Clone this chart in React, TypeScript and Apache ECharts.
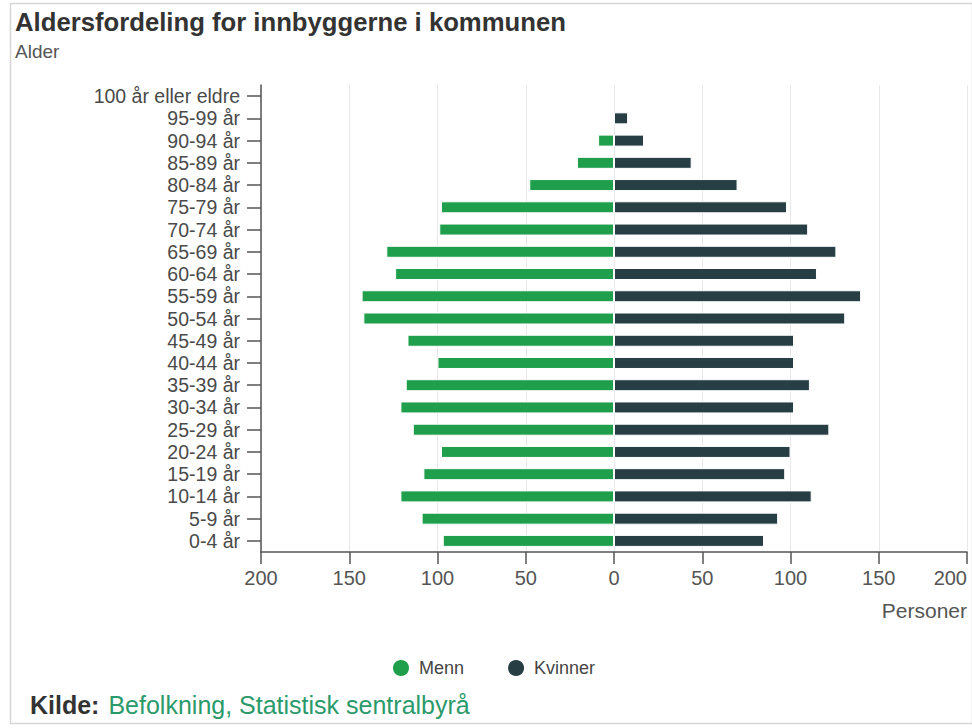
import React, { useEffect, useRef } from "react";
import * as echarts from "echarts";

const categories = [
  "0-4 år", "5-9 år", "10-14 år", "15-19 år", "20-24 år", "25-29 år", "30-34 år",
  "35-39 år", "40-44 år", "45-49 år", "50-54 år", "55-59 år", "60-64 år", "65-69 år",
  "70-74 år", "75-79 år", "80-84 år", "85-89 år", "90-94 år", "95-99 år", "100 år eller eldre",
];
const menn = [97, 109, 121, 108, 98, 114, 121, 118, 100, 117, 142, 143, 124, 129, 99, 98, 48, 21, 9, 0, 0];
const kvinner = [85, 93, 112, 97, 100, 122, 102, 111, 102, 102, 131, 140, 115, 126, 110, 98, 70, 44, 17, 8, 0];
const xTicks = { min: -200, max: 200, interval: 50 };

const FONT = "'Liberation Sans', Arial, Helvetica, sans-serif";
const GREEN = "#1f9e4c";
const DARK = "#263e44";

export default function App() {
  const ref = useRef<HTMLDivElement>(null);
  useEffect(() => {
    document.body.style.margin = "0";
    const chart = echarts.init(ref.current!, undefined, { renderer: "svg" });
    chart.setOption({
      animation: false,
      backgroundColor: "#ffffff",
      textStyle: { fontFamily: FONT },
      grid: { left: 261, right: 5, top: 85, bottom: 176, containLabel: false },
      legend: {
        left: 386,
        top: 653,
        icon: "circle",
        itemWidth: 18,
        itemHeight: 18,
        itemGap: 42,
        textStyle: { fontFamily: FONT, fontSize: 18, color: "#444", padding: [0, 0, 0, 4] },
        data: ["Menn", "Kvinner"],
      },
      xAxis: {
        type: "value",
        min: xTicks.min,
        max: xTicks.max,
        interval: xTicks.interval,
        axisLine: { show: true, onZero: false, lineStyle: { color: "#555", width: 1.5 } },
        axisTick: { show: true, length: 12, lineStyle: { color: "#555", width: 1.5 } },
        axisLabel: {
          color: "#555",
          fontSize: 20,
          fontFamily: FONT,
          margin: 16,
          alignMaxLabel: "right",
          formatter: (v: number) => String(Math.abs(v)),
        },
        splitLine: { show: true, lineStyle: { color: "#e8e8e8", width: 1 } },
      },
      yAxis: {
        type: "category",
        data: categories,
        axisLine: { show: true, onZero: false, lineStyle: { color: "#555", width: 1.5 } },
        axisTick: { show: true, length: 14, alignWithLabel: true, interval: 0, lineStyle: { color: "#555", width: 1.5 } },
        axisLabel: { color: "#4a4a4a", fontSize: 19.5, fontFamily: FONT, margin: 21, interval: 0 },
        splitLine: { show: false },
      },
      series: [
        {
          name: "Menn",
          type: "bar",
          stack: "pop",
          barWidth: 12,
          itemStyle: { color: GREEN, borderColor: "#ffffff", borderWidth: 1 },
          data: menn.map((v) => (v === 0 ? null : -v)),
        },
        {
          name: "Kvinner",
          type: "bar",
          stack: "pop",
          barWidth: 12,
          itemStyle: { color: DARK, borderColor: "#ffffff", borderWidth: 1 },
          data: kvinner.map((v) => (v === 0 ? null : v)),
        },
      ],
      graphic: [
        {
          type: "rect",
          silent: true,
          shape: { x: 10.5, y: 3.5, width: 962, height: 720 },
          style: { fill: "none", stroke: "#d6d6d6", lineWidth: 1.5 },
        },
        {
          type: "text",
          left: 15,
          top: 9,
          style: {
            text: "Aldersfordeling for innbyggerne i kommunen",
            font: `bold 25.7px ${FONT}`,
            fill: "#333",
          },
        },
        {
          type: "text",
          left: 15,
          top: 42,
          style: { text: "Alder", font: `19px ${FONT}`, fill: "#555" },
        },
        {
          type: "text",
          right: 5,
          top: 600,
          style: { text: "Personer", font: `21px ${FONT}`, fill: "#555" },
        },
        {
          type: "text",
          left: 30,
          top: 692,
          style: {
            text: "{a|Kilde:}{b|Befolkning, Statistisk sentralbyrå}",
            rich: {
              a: { font: `bold 25px ${FONT}`, fill: "#333" },
              b: { font: `25px ${FONT}`, fill: "#2a9a6a", padding: [0, 0, 0, 9] },
            },
          },
        },
      ],
    });
    return () => chart.dispose();
  }, []);
  return <div ref={ref} style={{ width: 972, height: 728 }} />;
}
